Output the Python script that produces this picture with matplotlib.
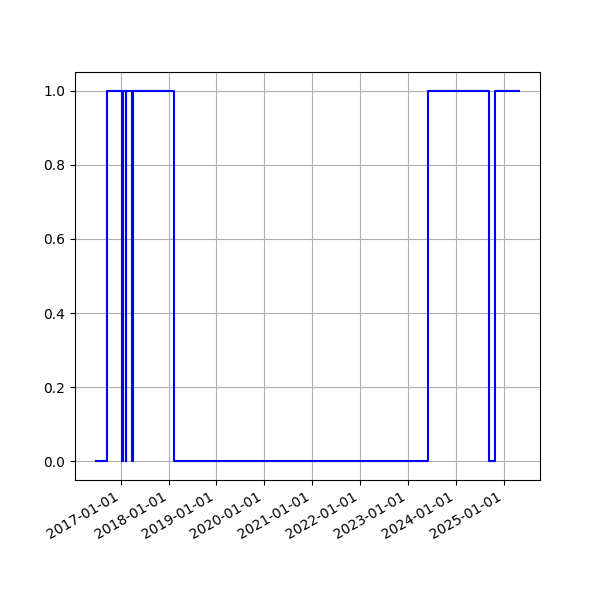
import numpy as np
import pandas as pd
import matplotlib
matplotlib.use('Agg')
import matplotlib.pyplot as plt
import matplotlib.dates as mdates

# change points of the 0/1 signal (value holds until the next date)
change_dates = ['2016-06-27', '2016-09-20', '2017-01-07', '2017-01-17',
                '2017-02-08', '2017-02-13', '2017-03-30', '2017-04-04',
                '2018-02-14', '2023-06-01', '2024-09-12', '2024-10-28',
                '2025-04-28']
change_values = [0, 1, 0, 1, 0, 1, 0, 1, 0, 1, 0, 1, 1]

dates = pd.to_datetime(change_dates)

fig, ax = plt.subplots(figsize=(6, 6), dpi=100)
ax.plot(dates, change_values, color='b', drawstyle='steps-post')
ax.xaxis.set_major_locator(mdates.YearLocator())
ax.xaxis.set_major_formatter(mdates.DateFormatter('%Y-%m-%d'))
ax.grid(True)
fig.autofmt_xdate()
fig.savefig('out.png', dpi=100)
